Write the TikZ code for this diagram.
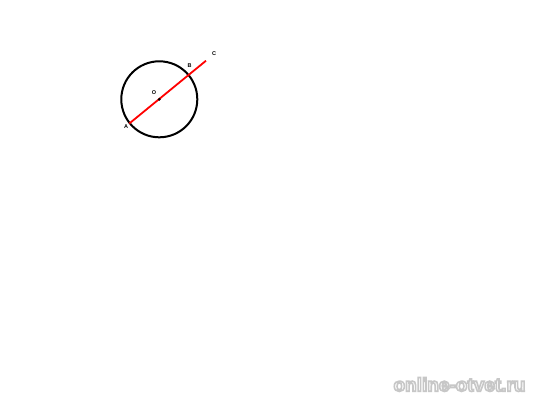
\documentclass[tikz,border=0pt]{standalone}
\usepackage{fontspec}
\setmainfont{Liberation Sans}
\begin{document}
\begin{tikzpicture}[x=1pt,y=-1pt,
  lbl/.style={font=\fontsize{5.5}{5.5}\selectfont\bfseries, inner sep=0pt},
  wm/.style={font=\fontsize{19}{19}\selectfont\bfseries, inner sep=0pt}]
\useasboundingbox[fill=white] (0,0) rectangle (536,400);
\coordinate (O) at (159.3,99.3);
\coordinate (A) at (129.3,123.5);
\coordinate (C) at (206,60.7);
\draw[line width=2pt, black] (O) circle (38);
\draw[line width=1.8pt, red] (A) -- (C);
\fill[black] (O) circle (1.6);
\node[lbl] (la) at (126,126.5) {A};
\node[lbl] (lb) at (189.5,66) {B};
\node[lbl] (lc) at (214,53.3) {C};
\node[lbl] (lo) at (154,92.7) {O};
\node[wm] (wmt) at (459.5,384.5) {\special{pdf:literal direct 2 Tr 1.6 w 0.78 G 1 g}online-otvet.ru\special{pdf:literal direct 0 Tr 0 G 0 g}};
\end{tikzpicture}
\end{document}
